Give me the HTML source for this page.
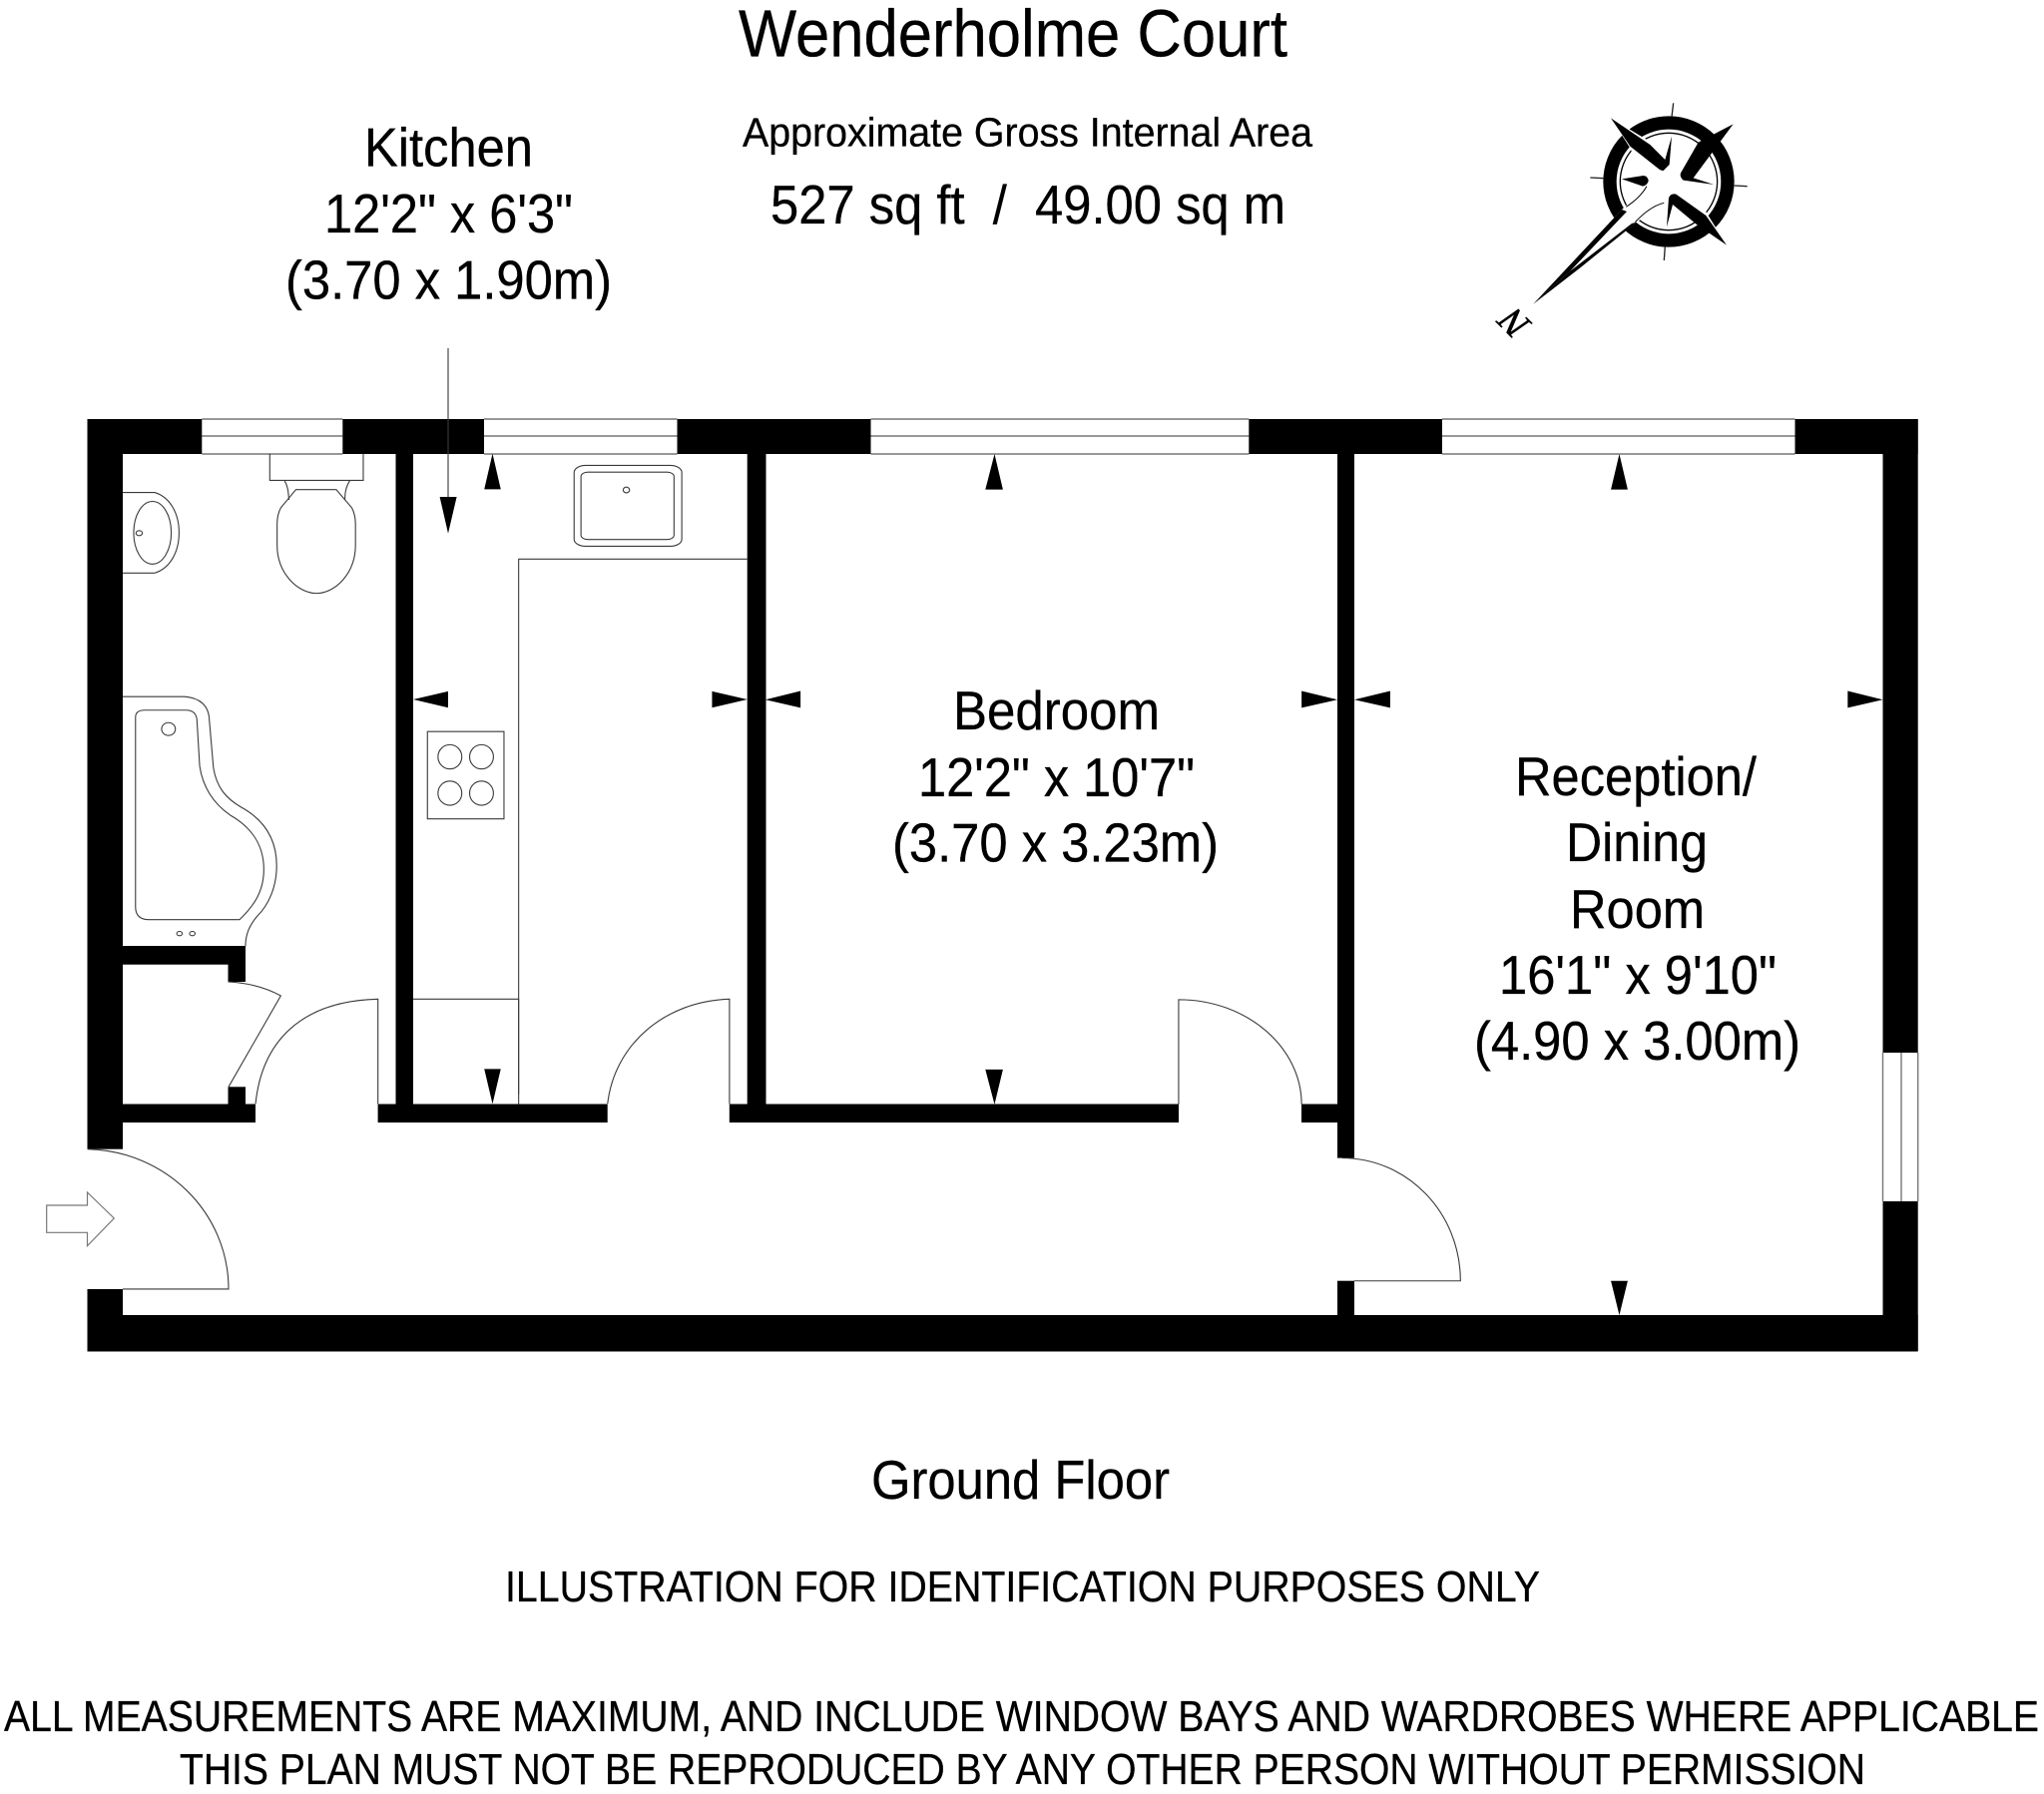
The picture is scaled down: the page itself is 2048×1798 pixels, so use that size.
<!DOCTYPE html>
<html>
<head>
<meta charset="utf-8">
<title>Wenderholme Court</title>
<style>
html,body{margin:0;padding:0;background:#fff;}
svg{display:block;}
text{font-family:"Liberation Sans",Arial,sans-serif;fill:#000;stroke:#000;stroke-width:.3;}
.t{fill:none;stroke:#3a3a3a;stroke-width:1.1;vector-effect:non-scaling-stroke;}
.g{fill:none;stroke:#777;stroke-width:1.4;vector-effect:non-scaling-stroke;}
</style>
</head>
<body>
<svg xmlns="http://www.w3.org/2000/svg" width="2048" height="1798" viewBox="0 0 2048 1798">
<rect width="2048" height="1798" fill="#fff"/>

<!-- windows -->
<g class="g">
<path d="M202.3 420H343.3M202.3 437H343.3M202.3 455H343.3"/>
<path d="M485 420H678.5M485 437H678.5M485 455H678.5"/>
<path d="M872.5 420H1251.3M872.5 437H1251.3M872.5 455H1251.3"/>
<path d="M1445 420H1798.5M1445 437H1798.5M1445 455H1798.5"/>
<path d="M1886.5 1055V1204M1905 1055V1204M1921.7 1055V1204"/>
</g>

<!-- walls -->
<g fill="#000">
<rect x="87.5" y="420" width="114.8" height="35"/>
<rect x="343.3" y="420" width="141.7" height="35"/>
<rect x="678.5" y="420" width="194" height="35"/>
<rect x="1251.3" y="420" width="193.7" height="35"/>
<rect x="1798.5" y="420" width="123.2" height="35"/>
<rect x="87.5" y="420" width="35.5" height="731.7"/>
<rect x="87.5" y="1292" width="35.5" height="62.5"/>
<rect x="87.5" y="1318" width="1834.2" height="36.5"/>
<rect x="1886.5" y="420" width="35.2" height="635"/>
<rect x="1886.5" y="1204" width="35.2" height="150"/>
<rect x="396.5" y="455" width="17.5" height="670"/>
<rect x="748.7" y="455" width="18.8" height="670"/>
<rect x="123" y="948" width="123" height="18.7"/>
<rect x="228.5" y="948" width="17.5" height="36"/>
<rect x="123" y="1106.5" width="133" height="18.5"/>
<rect x="228.5" y="1089.3" width="17.5" height="20"/>
<rect x="378.6" y="1106.5" width="230.1" height="18.5"/>
<rect x="730.8" y="1106.5" width="450.2" height="18.5"/>
<rect x="1304" y="1106.5" width="50" height="18.5"/>
<rect x="1340" y="455" width="17" height="705.6"/>
<rect x="1340" y="1283.7" width="17" height="70"/>
</g>

<!-- Zoom-space group: bath / kitchen top -->
<g transform="translate(60,400) scale(0.4592,0.3571)">
  <path class="t" d="M458 153V228H662V153"/>
  <path class="t" d="M490 228C500 250 498 270 500 283M633 228C622 250 622 270 622 283"/>
  <path class="t" d="M515 254H603L637 305Q645 325 645 350V410C645 490 600 545 560 545C520 545 474 490 474 410V350Q474 325 482 305Z"/>
  <path class="t" d="M137 262H207C240 275 260 320 260 375C260 430 240 475 207 488H137"/>
  <ellipse class="t" cx="202" cy="375" rx="41" ry="88"/>
  <ellipse class="t" cx="173" cy="376" rx="7" ry="7"/>
  <path class="t" d="M137 835H272C305 838 325 860 326 900L335 1035C342 1090 362 1120 395 1145C445 1180 473 1235 473 1310C473 1370 455 1420 430 1452C415 1475 405 1500 405 1535"/>
  <path class="t" d="M165 893Q165 873 185 873H275Q297 873 299 900L305 1030C312 1090 335 1135 372 1168C420 1203 445 1255 445 1320C445 1380 425 1420 392 1461H195Q165 1461 165 1425Z"/>
  <ellipse class="t" cx="237" cy="926" rx="15" ry="18"/>
  <ellipse class="t" cx="261" cy="1500" rx="6" ry="6"/>
  <ellipse class="t" cx="289" cy="1500" rx="6" ry="6"/>
  <rect class="t" x="1122" y="186" width="235" height="227" rx="25" ry="20"/>
  <rect class="t" x="1137" y="205" width="203" height="189" rx="15" ry="12"/>
  <ellipse class="t" cx="1236" cy="255" rx="7" ry="8"/>
  <path class="t" d="M1001 1950V449H1500"/>
  <rect class="t" x="802" y="933" width="167" height="245"/>
  <ellipse class="t" cx="851" cy="1004" rx="26" ry="34"/>
  <ellipse class="t" cx="920" cy="1004" rx="26" ry="34"/>
  <ellipse class="t" cx="851" cy="1106" rx="26" ry="34"/>
  <ellipse class="t" cx="920" cy="1106" rx="26" ry="34"/>
  <path d="M944 153L962 253H926Z M771 843L847 820V866Z M1500 843L1423 820V866Z"/>
</g>

<!-- lower-left zoom group: doors -->
<g transform="translate(60,930) scale(0.4592,0.3333)">
  <path class="t" d="M367 162C410 165 450 180 482 204L368 478"/>
  <path class="t" d="M427 529C440 350 520 220 694 214V529"/>
  <path class="t" d="M771 214H1001V529"/>
  <path class="t" d="M1195 529C1210 350 1320 220 1461 214V529"/>
  <path class="t" d="M60 665C230 670 368 855 368 1086H137"/>
  <path d="M944 529L926 424H962Z"/>
</g>
<path class="g" d="M46.7 1208H87.5V1195L114.3 1221L87.5 1248.7V1235.3H46.7Z" style="stroke-width:1.2"/>

<!-- kitchen pointer -->
<path class="t" d="M449 349V500"/>
<path d="M440.6 498H457.6L449 534.6Z"/>

<!-- right zoom group -->
<g transform="translate(760,400) scale(0.7653,0.625)">
  <path class="t" d="M550 1131V963C640 963 711 1040 711 1131"/>
  <path class="t" d="M764 1217C850 1217 919 1305 919 1414H780"/>
  <path d="M309 88L320 145H297Z M309 1131L297 1075H320Z M9 482L55 468V495Z M758 482L711 468V495Z M780 482L827 468V495Z M1472 482L1426 468V495Z M1127 88L1138 145H1116Z M1127 1469L1116 1414H1138Z"/>
</g>

<!-- compass -->
<g transform="translate(1470,90) scale(0.3333)">
  <circle cx="606" cy="276" r="177" fill="none" stroke="#000" stroke-width="40"/>
  <circle cx="606" cy="276" r="146" fill="none" stroke="#000" stroke-width="4"/>
  <path d="M620 40L615 82M370 264L412 266M803 288L842 290M595 470L592 513" fill="none" stroke="#222" stroke-width="4"/>
  <path fill="#fff" d="M432 85L540 150L610 205L700 160L800 103L710 200L650 260L720 370L780 467L690 395L610 320L585 340L505 402L198 645L465 360L540 290L490 175Z"/>
  <path d="M432 85L550 165L595 210L615 140L608 225L590 243Q582 243 575 237L490 170Z"/>
  <path d="M800 103L695 158L642 250Q638 262 650 272L742 285L680 265Z"/>
  <path d="M780 467L718 378L628 314Q612 310 606 325L600 412L618 345L690 405Z"/>
  <path d="M465 268L530 258Q545 260 545 275Q540 288 528 290Z"/>
  <path d="M198 645L465 360L480 366L310 545Z"/>
  <path d="M198 645L310 545L495 402L510 398L340 535Z"/>
  <path d="M540 290Q520 325 478 352M505 398Q550 350 592 340" fill="none" stroke="#000" stroke-width="3"/>
</g>
<text transform="translate(1517,324) rotate(225)" text-anchor="middle" y="13" style="font-family:'Liberation Serif',serif;font-style:italic;stroke-width:.6" font-size="38">N</text>

<!-- text -->
<g>
<text x="740" y="56.5" font-size="67" textLength="550" lengthAdjust="spacingAndGlyphs">Wenderholme Court</text>
<text x="744" y="146.5" font-size="41" textLength="571" lengthAdjust="spacingAndGlyphs">Approximate Gross Internal Area</text>
<text x="772" y="224" font-size="54.5" textLength="516" lengthAdjust="spacingAndGlyphs" xml:space="preserve">527 sq ft  /  49.00 sq m</text>

<text x="365" y="166.3" font-size="54.5" textLength="169" lengthAdjust="spacingAndGlyphs">Kitchen</text>
<text x="325" y="233" font-size="54.5" textLength="249" lengthAdjust="spacingAndGlyphs">12'2" x 6'3"</text>
<text x="286" y="299.7" font-size="54.5" textLength="327" lengthAdjust="spacingAndGlyphs">(3.70 x 1.90m)</text>

<text x="955" y="731" font-size="54.5" textLength="207" lengthAdjust="spacingAndGlyphs">Bedroom</text>
<text x="920" y="798" font-size="54.5" textLength="277" lengthAdjust="spacingAndGlyphs">12'2" x 10'7"</text>
<text x="894" y="863.5" font-size="54.5" textLength="327" lengthAdjust="spacingAndGlyphs">(3.70 x 3.23m)</text>

<text x="1518" y="797" font-size="54.5" textLength="242" lengthAdjust="spacingAndGlyphs">Reception/</text>
<text x="1569" y="863" font-size="54.5" textLength="142" lengthAdjust="spacingAndGlyphs">Dining</text>
<text x="1573" y="930" font-size="54.5" textLength="135" lengthAdjust="spacingAndGlyphs">Room</text>
<text x="1502" y="996" font-size="54.5" textLength="278" lengthAdjust="spacingAndGlyphs">16'1" x 9'10"</text>
<text x="1477" y="1062" font-size="54.5" textLength="327" lengthAdjust="spacingAndGlyphs">(4.90 x 3.00m)</text>

<text x="873" y="1502" font-size="55" textLength="299" lengthAdjust="spacingAndGlyphs">Ground Floor</text>
<text x="506" y="1605" font-size="44" textLength="1037" lengthAdjust="spacingAndGlyphs">ILLUSTRATION FOR IDENTIFICATION PURPOSES ONLY</text>
<text x="4" y="1735" font-size="44" textLength="2039" lengthAdjust="spacingAndGlyphs">ALL MEASUREMENTS ARE MAXIMUM, AND INCLUDE WINDOW BAYS AND WARDROBES WHERE APPLICABLE</text>
<text x="180" y="1788" font-size="44" textLength="1689" lengthAdjust="spacingAndGlyphs">THIS PLAN MUST NOT BE REPRODUCED BY ANY OTHER PERSON WITHOUT PERMISSION</text>
</g>
</svg>
</body>
</html>
